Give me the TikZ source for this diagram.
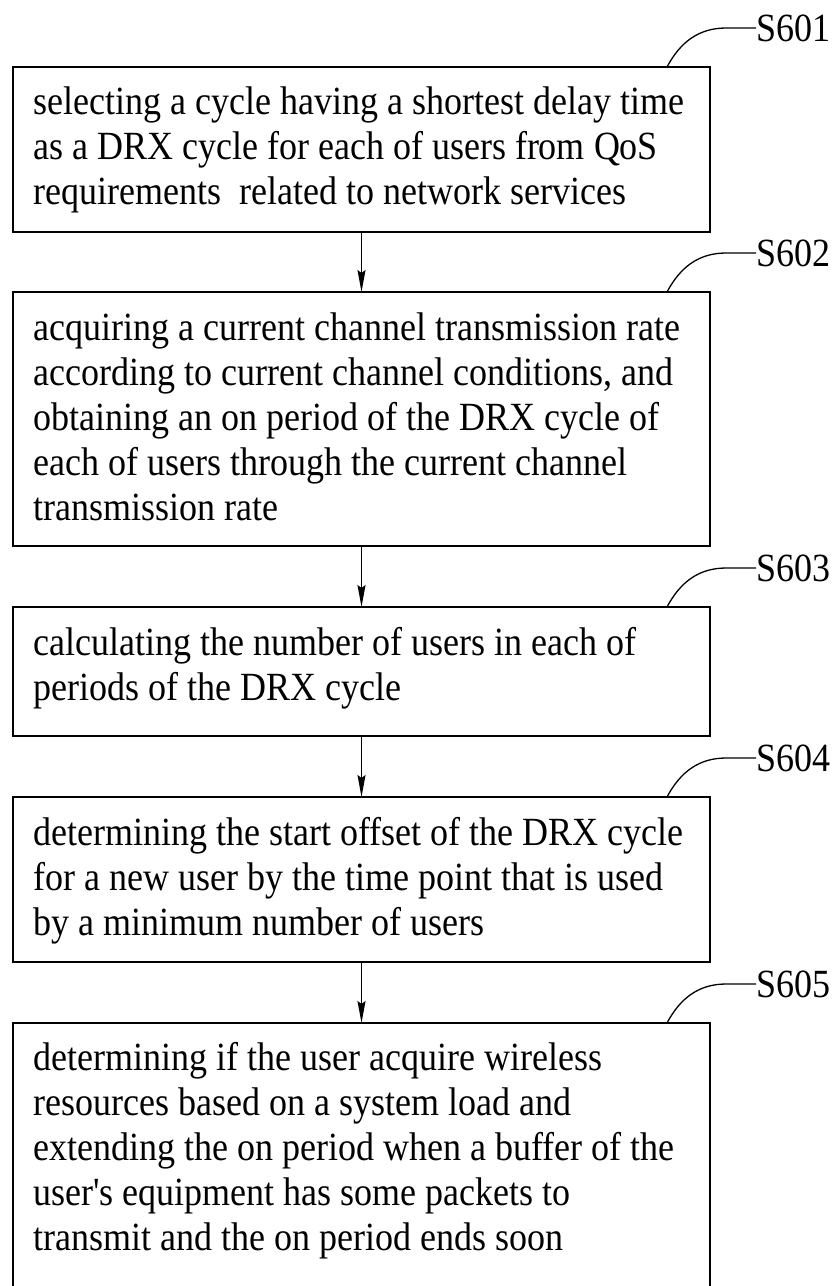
\documentclass[tikz,border=0pt]{standalone}
\usepackage{fontspec}
\setmainfont{Liberation Serif}[FakeStretch=0.9, Ligatures=TeXOff]
\usetikzlibrary{arrows.meta}
\tikzset{
  stepbox/.style={draw=black, line width=2pt, rectangle, outer sep=0pt, inner sep=0pt,
    minimum width=697pt, anchor=north west},
  steptext/.style={anchor=north west, inner sep=0pt, align=left,
    font=\fontsize{40}{45}\selectfont},
  steplabel/.style={anchor=west, inner sep=0.5pt, font=\fontsize{40}{45}\selectfont},
  arr/.style={line width=1.3pt, -{Stealth[length=22pt,width=8pt,inset=3pt]}},
  leader/.style={line width=1.3pt}
}
\begin{document}
\begin{tikzpicture}[x=1pt,y=1pt]
\useasboundingbox (0,0) rectangle (840,-1286);
\begin{scope}
\clip (0,0) rectangle (840,-1286);
\fill[white] (0,0) rectangle (840,-1286);

% boxes
\node[stepbox, minimum height=165pt] (b1) at (13,-67) {};
\node[stepbox, minimum height=254pt] (b2) at (13,-292) {};
\node[stepbox, minimum height=129pt] (b3) at (13,-607) {};
\node[stepbox, minimum height=165pt] (b4) at (13,-797) {};
\node[stepbox, minimum height=290pt] (b5) at (13,-1023) {};

% texts
\node[steptext] (t1) at ([shift={(20,-16)}]b1.north west)
  {\rule{0pt}{31pt}selecting a cycle having a shortest delay time\\
   as a DRX cycle for each of users from QoS\\
   requirements~ related to network services};
\node[steptext] (t2) at ([shift={(20,-17)}]b2.north west)
  {\rule{0pt}{31pt}acquiring a current channel transmission rate\\
   according to current channel conditions, and\\
   obtaining an on period of the DRX cycle of\\
   each of users through the current channel\\
   transmission rate};
\node[steptext] (t3) at ([shift={(20,-17)}]b3.north west)
  {\rule{0pt}{31pt}calculating the number of users in each of\\
   periods of the DRX cycle};
\node[steptext] (t4) at ([shift={(20,-17)}]b4.north west)
  {\rule{0pt}{31pt}determining the start offset of the DRX cycle\\
   for a new user by the time point that is used\\
   by a minimum number of users};
\node[steptext] (t5) at ([shift={(20,-16)}]b5.north west)
  {\rule{0pt}{31pt}determining if the user acquire wireless\\
   resources based on a system load and\\
   extending the on period when a buffer of the\\
   user's equipment has some packets to\\
   transmit and the on period ends soon};

% labels
\node[steplabel] (l1) at ([shift={(46,39)}]b1.north east) {S601};
\node[steplabel] (l2) at ([shift={(46,39)}]b2.north east) {S602};
\node[steplabel] (l3) at ([shift={(46,39)}]b3.north east) {S603};
\node[steplabel] (l4) at ([shift={(46,39)}]b4.north east) {S604};
\node[steplabel] (l5) at ([shift={(46,39)}]b5.north east) {S605};

% leaders
\foreach \i in {1,...,5}{
  \draw[leader] ([xshift=-43pt]b\i.north east) to[out=62,in=180]
    ([xshift=-30pt]l\i.west) -- (l\i.west);
}

% arrows
\draw[arr] (b1.south) -- (b2.north);
\draw[arr] (b2.south) -- (b3.north);
\draw[arr] (b3.south) -- (b4.north);
\draw[arr] (b4.south) -- (b5.north);
\end{scope}
\end{tikzpicture}
\end{document}
